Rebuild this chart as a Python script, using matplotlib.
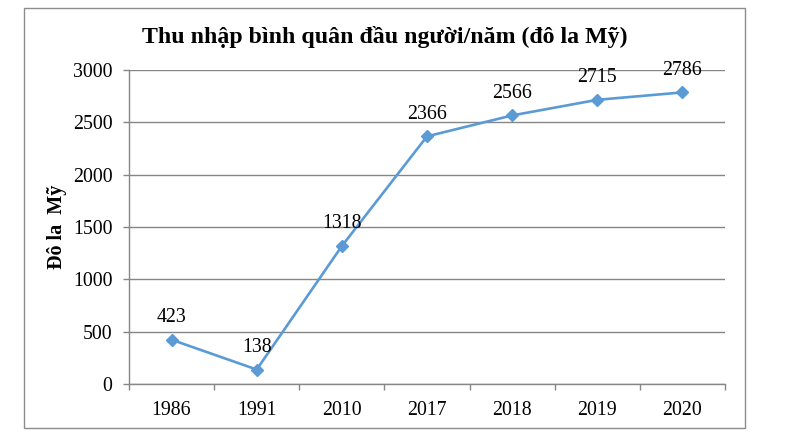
import matplotlib
matplotlib.use("Agg")
import matplotlib.pyplot as plt
from matplotlib.patches import Rectangle
import numpy as np

years = ["1986", "1991", "2010", "2017", "2018", "2019", "2020"]
income = [423, 138, 1318, 2366, 2566, 2715, 2786]
yticks = [0, 500, 1000, 1500, 2000, 2500, 3000]
title = "Thu nhập bình quân đầu người/năm (đô la Mỹ)"
ylabel = "Đô la  Mỹ"

plt.rcParams['font.family'] = ['Liberation Serif', 'DejaVu Serif']

W, H = 795, 432
fig = plt.figure(figsize=(W/100, H/100), dpi=100)
fig.patch.set_facecolor('white')

# outer chart frame
fig.add_artist(Rectangle((24/W, 1-428/H), (745-24)/W, (428-8)/H,
                         transform=fig.transFigure, fill=False,
                         edgecolor='#8c8c8c', linewidth=1.0))

ax = fig.add_axes([129/W, 1-384/H, (725-129)/W, (384-70)/H])
x = np.arange(len(years))
grid_c = '#868686'
ax.set_xlim(-0.5, len(years)-0.5)
ax.set_ylim(0, 3000)
ax.set_yticks(yticks)
ax.yaxis.grid(True, color=grid_c, linewidth=1.0)
ax.set_axisbelow(True)
for s in ['top', 'right']:
    ax.spines[s].set_visible(False)
for s in ['left', 'bottom']:
    ax.spines[s].set_color(grid_c)
    ax.spines[s].set_linewidth(1.0)

ax.set_xticks(x)
ax.set_xticklabels(years)
ax.set_xticks(np.arange(-0.5, len(years), 1), minor=True)
ax.tick_params(axis='x', which='major', length=0, pad=12, labelsize=14.3)
ax.tick_params(axis='x', which='minor', length=4, color=grid_c, width=1.0)
ax.tick_params(axis='y', length=4, color=grid_c, width=1.0, pad=8, labelsize=14.3)

ax.plot(x, income, color='#5B9BD5', linewidth=1.9, marker='D',
        markersize=6.5, markerfacecolor='#5B9BD5', markeredgecolor='#5B9BD5',
        clip_on=False)
for xi, v in zip(x, income):
    ax.annotate(str(v), (xi, v), xytext=(0, 16), textcoords='offset points',
                ha='center', va='center', fontsize=14.3)

fig.text(385/W, 1-37/H, title, ha='center', va='center', fontsize=17.2,
         fontweight='bold')
fig.text(57/W, 1-227/H, ylabel, ha='center', va='center', rotation=90,
         fontsize=14.5, fontweight='bold')

fig.savefig('out.png', dpi=100, facecolor='white')
